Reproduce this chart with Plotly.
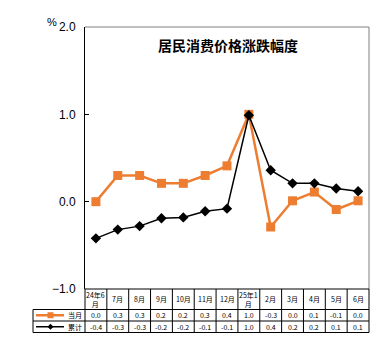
import plotly.graph_objects as go

categories = ["24年6<br>月", "7月", "8月", "9月", "10月", "11月", "12月", "25年1<br>月",
              "2月", "3月", "4月", "5月", "6月"]
monthly = [0.0, 0.3, 0.3, 0.21, 0.21, 0.3, 0.41, 1.0, -0.29, 0.01, 0.11, -0.09, 0.01]
cumulative = [-0.42, -0.32, -0.28, -0.19, -0.18, -0.11, -0.08, 0.99, 0.36, 0.21, 0.21, 0.15, 0.12]
monthly_text = ["0.0", "0.3", "0.3", "0.2", "0.2", "0.3", "0.4", "1.0", "-0.3", "0.0", "0.1", "-0.1", "0.0"]
cumulative_text = ["-0.4", "-0.3", "-0.3", "-0.2", "-0.2", "-0.1", "-0.1", "1.0", "0.4", "0.2", "0.2", "0.1", "0.1"]
series_names = ["当月", "累计"]
y_ticks = [-1.0, 0.0, 1.0, 2.0]
title_text = "居民消费价格涨跌幅度"

ORANGE = "#ED7D31"
W, H = 374, 348
L, R, T, B = 85, 369, 27, 289
PW, PH = R - L, B - T
n = len(categories)
xs = list(range(n))

def px(xpix):
    return (xpix - L) / PW

def py(ypix):
    return (B - ypix) / PH

fig = go.Figure()
fig.add_trace(go.Scatter(x=xs, y=monthly, mode="lines+markers", name=series_names[0],
                         line=dict(color=ORANGE, width=2.5),
                         marker=dict(symbol="square", size=9, color=ORANGE), cliponaxis=False))
fig.add_trace(go.Scatter(x=xs, y=cumulative, mode="lines+markers", name=series_names[1],
                         line=dict(color="black", width=1.5),
                         marker=dict(symbol="diamond", size=8, color="black"), cliponaxis=False))

shapes = []
shapes.append(dict(type="line", xref="paper", yref="paper", x0=0, x1=1, y0=1, y1=1,
                   line=dict(color="#808080", width=1)))
shapes.append(dict(type="line", xref="paper", yref="paper", x0=1, x1=1, y0=0, y1=1,
                   line=dict(color="#808080", width=1)))

row_y = [289, 309.5, 321, 332.5]
rows_p = [py(v) for v in row_y]
leg_left = px(33)
tline = dict(color="black", width=1)
shapes.append(dict(type="line", xref="paper", yref="paper", x0=0, x1=1, y0=rows_p[0], y1=rows_p[0], line=tline))
for yy in rows_p[1:]:
    shapes.append(dict(type="line", xref="paper", yref="paper", x0=leg_left, x1=1, y0=yy, y1=yy, line=tline))
for i in range(n + 1):
    shapes.append(dict(type="line", xref="paper", yref="paper", x0=i / n, x1=i / n,
                       y0=rows_p[0], y1=rows_p[3], line=tline))
shapes.append(dict(type="line", xref="paper", yref="paper", x0=leg_left, x1=leg_left,
                   y0=rows_p[1], y1=rows_p[3], line=tline))

cy1 = py((row_y[1] + row_y[2]) / 2)
cy2 = py((row_y[2] + row_y[3]) / 2)
shapes.append(dict(type="line", xref="paper", yref="paper", x0=px(36), x1=px(64), y0=cy1, y1=cy1,
                   line=dict(color=ORANGE, width=2.5)))
shapes.append(dict(type="rect", xref="paper", yref="paper", x0=px(47.5), x1=px(53.5),
                   y0=py(315.25 + 3), y1=py(315.25 - 3), fillcolor=ORANGE, line=dict(width=0)))
shapes.append(dict(type="line", xref="paper", yref="paper", x0=px(36), x1=px(64), y0=cy2, y1=cy2,
                   line=dict(color="black", width=1.5)))
mid = 326.75
shapes.append(dict(type="path", xref="paper", yref="paper",
                   path=f"M {px(50.5)},{py(mid-3)} L {px(53.5)},{py(mid)} L {px(50.5)},{py(mid+3)} L {px(47.5)},{py(mid)} Z",
                   fillcolor="black", line=dict(width=0)))

annotations = []
tf = dict(family="Noto Sans CJK SC, Liberation Sans", size=7, color="black")
for i, c in enumerate(categories):
    xc = (i + 0.5) / n
    annotations.append(dict(text=c, x=xc, y=py((row_y[0] + row_y[1]) / 2), xref="paper", yref="paper",
                            showarrow=False, font=tf, xanchor="center", yanchor="middle"))
    annotations.append(dict(text=monthly_text[i], x=xc, y=cy1, xref="paper", yref="paper",
                            showarrow=False, font=tf, xanchor="center", yanchor="middle"))
    annotations.append(dict(text=cumulative_text[i], x=xc, y=cy2, xref="paper", yref="paper",
                            showarrow=False, font=tf, xanchor="center", yanchor="middle"))
annotations.append(dict(text=series_names[0], x=px(75), y=cy1, xref="paper", yref="paper",
                        showarrow=False, font=tf, xanchor="center", yanchor="middle"))
annotations.append(dict(text=series_names[1], x=px(75), y=cy2, xref="paper", yref="paper",
                        showarrow=False, font=tf, xanchor="center", yanchor="middle"))
annotations.append(dict(text="%", x=px(59), y=py(22), xref="paper", yref="paper", showarrow=False,
                        font=dict(family="Liberation Sans", size=11, color="black"),
                        xanchor="right", yanchor="middle"))
annotations.append(dict(text="<b>" + title_text + "</b>", x=px(228), y=py(45), xref="paper", yref="paper",
                        showarrow=False, font=dict(family="Noto Sans CJK SC", size=14, color="black"),
                        xanchor="center", yanchor="middle"))

fig.update_layout(
    width=W, height=H,
    margin=dict(l=L, r=W - R, t=T, b=H - B, pad=0),
    paper_bgcolor="white", plot_bgcolor="white",
    showlegend=False,
    shapes=shapes, annotations=annotations,
    xaxis=dict(range=[-0.5, n - 0.5], showticklabels=False, showgrid=False, zeroline=False,
               showline=False, ticks=""),
    yaxis=dict(range=[-1, 2], tickvals=y_ticks, tickformat=".1f", showgrid=False, zeroline=False,
               showline=True, linecolor="black", linewidth=1, ticks="inside", ticklen=4,
               tickcolor="black", ticklabelstandoff=6,
               tickfont=dict(family="Liberation Sans", size=12, color="black")),
)

fig.write_html("out.html")
